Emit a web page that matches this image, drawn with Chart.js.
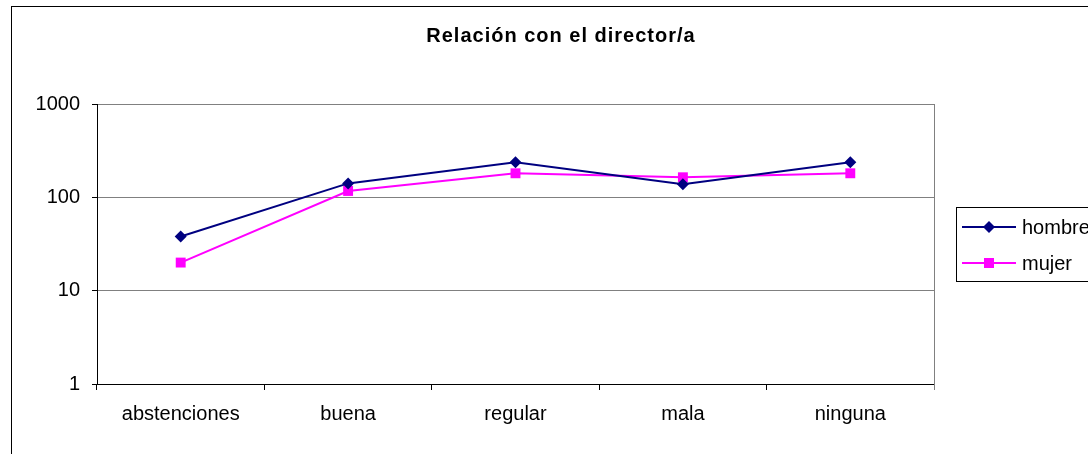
<!DOCTYPE html>
<html>
<head>
<meta charset="utf-8">
<script src="https://cdn.jsdelivr.net/npm/chart.js@4/dist/chart.umd.min.js"></script>
<style>
  html, body { margin: 0; padding: 0; background: #fff; }
  #wrap { width: 1088px; height: 454px; }
</style>
</head>
<body>
<div id="wrap"><canvas id="chart" width="1088" height="454"></canvas></div>
<script>
// chart values
const categories = ["abstenciones", "buena", "regular", "mala", "ninguna"];
const hombre = [38, 141, 237, 138, 237];
const mujer = [20, 117, 181, 164, 181];
const yTicks = [1, 10, 100, 1000];
const titleText = "Relación con el director/a";

const FONT = "'Liberation Sans', Arial, sans-serif";

// frame, title, plot border and legend box, drawn round the chart
const decorations = {
    id: "decorations",
    beforeDraw: function (chart) {
        const ctx = chart.ctx;
        ctx.save();
        ctx.fillStyle = "#fff";
        ctx.fillRect(0, 0, chart.width, chart.height);
        ctx.strokeStyle = "#000";
        ctx.lineWidth = 1;
        ctx.strokeRect(11.5, 6.5, 2000, 2000);
        ctx.restore();
    },
    afterDraw: function (chart) {
        const ctx = chart.ctx;
        const area = chart.chartArea;
        ctx.save();

        // title
        ctx.fillStyle = "#000";
        ctx.font = "bold 20px " + FONT;
        ctx.letterSpacing = "1px";
        ctx.textAlign = "center";
        ctx.textBaseline = "middle";
        ctx.fillText(titleText, 561, 36);
        ctx.letterSpacing = "0px";

        // right side of the plot area
        ctx.strokeStyle = "#808080";
        ctx.lineWidth = 1;
        ctx.beginPath();
        ctx.moveTo(Math.round(area.right) + 0.5, area.top);
        ctx.lineTo(Math.round(area.right) + 0.5, area.bottom + 6);
        ctx.stroke();

        // legend
        ctx.strokeStyle = "#000";
        ctx.strokeRect(956.5, 207.5, 300, 74);
        ctx.font = "20px " + FONT;
        ctx.textAlign = "left";
        chart.data.datasets.forEach(function (ds, i) {
            const y = 227 + i * 36;
            ctx.strokeStyle = ds.borderColor;
            ctx.lineWidth = 2;
            ctx.beginPath();
            ctx.moveTo(962, y);
            ctx.lineTo(1016, y);
            ctx.stroke();
            ctx.fillStyle = ds.pointBackgroundColor;
            ctx.beginPath();
            if (ds.pointStyle === "rectRot") {
                ctx.moveTo(989, y - 6);
                ctx.lineTo(995, y);
                ctx.lineTo(989, y + 6);
                ctx.lineTo(983, y);
                ctx.closePath();
            } else {
                ctx.rect(984, y - 5, 10, 10);
            }
            ctx.fill();
            ctx.fillStyle = "#000";
            ctx.fillText(ds.label, 1022, y + 1);
        });
        ctx.restore();
    }
};

new Chart(document.getElementById("chart"), {
    type: "line",
    data: {
        labels: categories,
        datasets: [
            {
                label: "hombre",
                data: hombre,
                borderColor: "#000080",
                backgroundColor: "#000080",
                pointBackgroundColor: "#000080",
                pointBorderColor: "#000080",
                borderWidth: 2,
                pointStyle: "rectRot",
                pointRadius: 6,
                pointBorderWidth: 0,
                tension: 0
            },
            {
                label: "mujer",
                data: mujer,
                borderColor: "#FF00FF",
                backgroundColor: "#FF00FF",
                pointBackgroundColor: "#FF00FF",
                pointBorderColor: "#FF00FF",
                borderWidth: 2,
                pointStyle: "rect",
                pointRadius: 7,
                pointBorderWidth: 0,
                tension: 0
            }
        ]
    },
    options: {
        responsive: false,
        animation: false,
        layout: { padding: { left: 0, right: 154, top: 104, bottom: 0 } },
        plugins: {
            legend: { display: false },
            title: { display: false },
            tooltip: { enabled: false }
        },
        scales: {
            x: {
                offset: true,
                grid: {
                    offset: true,
                    drawOnChartArea: false,
                    drawTicks: true,
                    tickLength: 6,
                    tickColor: "#000"
                },
                border: { color: "#000", width: 1 },
                ticks: {
                    color: "#000",
                    font: { family: FONT, size: 20 },
                    padding: 12,
                    maxRotation: 0
                },
                afterFit: function (scale) { scale.height = 70; }
            },
            y: {
                type: "logarithmic",
                min: 1,
                max: 1000,
                afterBuildTicks: function (scale) {
                    scale.ticks = yTicks.map(function (v) { return { value: v }; });
                },
                grid: {
                    color: "#808080",
                    tickColor: "#000",
                    tickLength: 5,
                    lineWidth: 1
                },
                border: { color: "#000", width: 1 },
                ticks: {
                    color: "#000",
                    font: { family: FONT, size: 20 },
                    padding: 12,
                    callback: function (v) { return String(v); }
                },
                afterFit: function (scale) { scale.width = 97; }
            }
        }
    },
    plugins: [decorations]
});
</script>
</body>
</html>
